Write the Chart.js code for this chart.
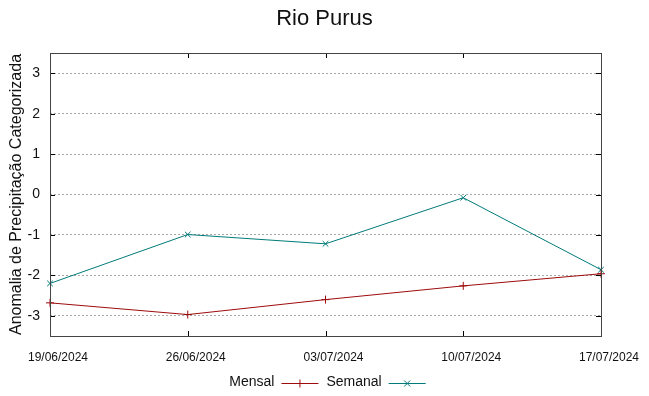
<!DOCTYPE html>
<html>
<head>
<meta charset="utf-8">
<script src="https://cdn.jsdelivr.net/npm/chart.js@4.4.1/dist/chart.umd.min.js"></script>
<style>
  html, body { margin: 0; padding: 0; background: #fff; }
  #wrap { width: 649px; height: 396px; }
</style>
</head>
<body>
<div id="wrap"><canvas id="grafico"></canvas></div>
<script>
// Dados
const datas = ['19/06/2024', '26/06/2024', '03/07/2024', '10/07/2024', '17/07/2024'];
const mensal = [-2.68, -2.97, -2.6, -2.26, -1.96];
const semanal = [-2.2, -0.99, -1.22, -0.08, -1.86];
const yTicks = [-3, -2, -1, 0, 1, 2, 3];

const corMensal = '#9e0b0b';
const corSemanal = '#007a7a';
const fonte = '"Liberation Sans", Arial, sans-serif';

Chart.defaults.color = '#111';
Chart.defaults.font.family = fonte;

// Moldura estilo gnuplot com marcas para dentro
const moldura = {
    id: 'moldura',
    afterDatasetsDraw(chart) {
        const { ctx, chartArea: a, scales } = chart;
        ctx.save();
        ctx.strokeStyle = '#000';
        ctx.lineWidth = 1;
        const t = 5;
        ctx.beginPath();
        yTicks.forEach(v => {
            const y = Math.round(scales.y.getPixelForValue(v)) + 0.5;
            ctx.moveTo(a.left, y); ctx.lineTo(a.left + t, y);
            ctx.moveTo(a.right, y); ctx.lineTo(a.right - t, y);
        });
        datas.forEach((d, i) => {
            const x = Math.round(scales.x.getPixelForValue(i)) + 0.5;
            ctx.moveTo(x, a.bottom); ctx.lineTo(x, a.bottom - t);
            ctx.moveTo(x, a.top); ctx.lineTo(x, a.top + t);
        });
        ctx.stroke();
        ctx.strokeStyle = '#444';
        ctx.strokeRect(Math.round(a.left) + 0.5, Math.round(a.top) + 0.5,
            Math.round(a.right - a.left), Math.round(a.bottom - a.top));
        ctx.restore();
    }
};

// Legenda com texto antes da amostra
const legenda = {
    id: 'legenda',
    afterDraw(chart) {
        const { ctx, chartArea: a } = chart;
        ctx.save();
        ctx.font = '14px ' + fonte;
        ctx.textBaseline = 'middle';
        ctx.fillStyle = '#111';
        const itens = [
            { nome: 'Mensal', cor: corMensal, marca: '+' },
            { nome: 'Semanal', cor: corSemanal, marca: 'x' }
        ];
        const amostra = 37;
        let total = 0;
        itens.forEach((it, i) => {
            it.w = ctx.measureText(it.nome).width;
            total += it.w + 7 + amostra + (i < itens.length - 1 ? 8 : 0);
        });
        let x = (a.left + a.right) / 2 + 2 - total / 2;
        const y = 382;
        itens.forEach(it => {
            ctx.fillText(it.nome, x, y);
            x += it.w + 7;
            const ly = y + 1.5;
            ctx.strokeStyle = it.cor;
            ctx.lineWidth = 1;
            ctx.beginPath();
            ctx.moveTo(x, ly); ctx.lineTo(x + amostra, ly);
            const cx = x + amostra / 2, r = 4;
            if (it.marca === '+') {
                ctx.moveTo(cx, ly - r); ctx.lineTo(cx, ly + r);
            } else {
                ctx.moveTo(cx - 3, ly - 3); ctx.lineTo(cx + 3, ly + 3);
                ctx.moveTo(cx + 3, ly - 3); ctx.lineTo(cx - 3, ly + 3);
            }
            ctx.stroke();
            x += amostra + 8;
        });
        ctx.restore();
    }
};

new Chart(document.getElementById('grafico').getContext('2d'), {
    type: 'line',
    data: {
        labels: datas,
        datasets: [{
            label: 'Mensal',
            data: mensal,
            borderColor: corMensal,
            backgroundColor: corMensal,
            borderWidth: 1,
            pointStyle: 'cross',
            pointRadius: 4,
            pointBorderWidth: 1,
            tension: 0,
            clip: false
        }, {
            label: 'Semanal',
            data: semanal,
            borderColor: corSemanal,
            backgroundColor: corSemanal,
            borderWidth: 1,
            pointStyle: 'crossRot',
            pointRadius: 4,
            pointBorderWidth: 1,
            tension: 0,
            clip: false
        }]
    },
    options: {
        responsive: true,
        maintainAspectRatio: false,
        animation: false,
        layout: { padding: 0 },
        plugins: {
            legend: { display: false },
            tooltip: { enabled: false },
            title: {
                display: true,
                text: 'Rio Purus',
                color: '#111',
                font: { size: 22, weight: 'normal' },
                padding: { top: 6, bottom: 20.6 }
            }
        },
        scales: {
            x: {
                type: 'category',
                offset: false,
                afterFit(s) { s.height = 60; },
                grid: { display: false, drawTicks: false },
                border: { display: false },
                ticks: {
                    font: { size: 12 },
                    padding: 14,
                    labelOffset: 8,
                    maxRotation: 0,
                    autoSkip: false
                }
            },
            y: {
                min: -3.5,
                max: 3.5,
                afterFit(s) { s.width = 50; },
                afterBuildTicks(s) { s.ticks = yTicks.map(v => ({ value: v })); },
                grid: { color: '#a8a8a8', drawTicks: false, lineWidth: 1 },
                border: { display: false, dash: [2, 2] },
                ticks: { font: { size: 14 }, padding: 10 },
                title: {
                    display: true,
                    text: 'Anomalia de Precipitação Categorizada',
                    font: { size: 16 },
                    padding: { top: 7, bottom: 0 }
                }
            },
            // eixo vazio à direita só para reservar a margem
            yDir: {
                position: 'right',
                min: -3.5,
                max: 3.5,
                afterFit(s) { s.width = 48; },
                grid: { display: false, drawTicks: false },
                border: { display: false },
                ticks: { display: false }
            }
        }
    },
    plugins: [moldura, legenda]
});
</script>
</body>
</html>
